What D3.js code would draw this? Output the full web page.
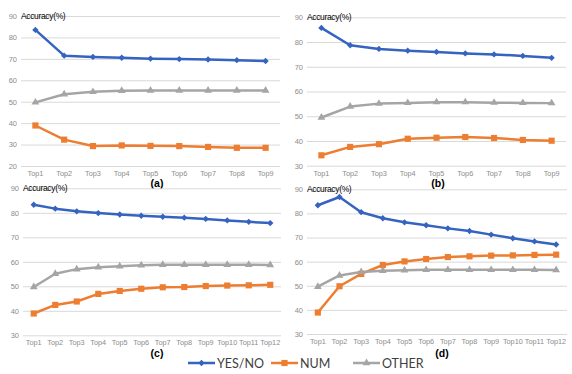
<!DOCTYPE html>
<html><head><meta charset="utf-8">
<script src="https://cdn.jsdelivr.net/npm/d3@7"></script>
<style>
body{margin:0;background:#fff;}
svg{display:block;}
</style></head>
<body>
<svg id="chart" width="572" height="374"></svg>
<script>
const seriesNames = ["YES/NO", "NUM", "OTHER"];
const seriesColors = ["#3563C0", "#ED7D31", "#A5A5A5"];
const cats9 = ["Top1","Top2","Top3","Top4","Top5","Top6","Top7","Top8","Top9"];
const cats12 = ["Top1","Top2","Top3","Top4","Top5","Top6","Top7","Top8","Top9","Top10","Top11","Top12"];
const ticksA = [20,30,40,50,60,70,80,90];
const ticksBCD = [30,40,50,60,70,80,90];

const aYes   = [83.5, 71.5, 70.9, 70.5, 70.1, 69.9, 69.7, 69.4, 69.0];
const aNum   = [38.9, 32.3, 29.3, 29.6, 29.4, 29.3, 28.9, 28.5, 28.5];
const aOther = [49.7, 53.5, 54.6, 55.1, 55.2, 55.2, 55.2, 55.2, 55.2];

const bYes   = [85.7, 78.7, 77.2, 76.5, 76.0, 75.4, 75.0, 74.4, 73.6];
const bNum   = [34.2, 37.6, 38.7, 40.9, 41.3, 41.6, 41.2, 40.4, 40.1];
const bOther = [49.5, 53.9, 55.1, 55.4, 55.7, 55.7, 55.5, 55.4, 55.3];

const cYes   = [83.3, 81.7, 80.6, 79.9, 79.3, 78.8, 78.4, 78.0, 77.5, 76.9, 76.3, 75.8];
const cNum   = [38.9, 42.4, 43.8, 46.9, 48.1, 49.0, 49.6, 49.7, 50.1, 50.3, 50.4, 50.6];
const cOther = [49.7, 55.1, 57.0, 57.8, 58.2, 58.6, 58.8, 58.8, 58.8, 58.8, 58.8, 58.7];

const dYes   = [83.4, 86.8, 80.5, 78.0, 76.3, 75.1, 73.8, 72.7, 71.2, 69.7, 68.4, 67.1];
const dNum   = [38.9, 49.8, 54.9, 58.6, 60.1, 61.1, 61.9, 62.2, 62.5, 62.6, 62.8, 62.9];
const dOther = [49.6, 54.3, 55.7, 56.2, 56.4, 56.6, 56.6, 56.6, 56.6, 56.6, 56.6, 56.5];

const panels = [
  {label:"(a)", cats:cats9,  ticks:ticksA,   series:[aYes,aNum,aOther], x0:21,  x1:280, yTop:16,    yBot:166,   lx:157, ly:187},
  {label:"(b)", cats:cats9,  ticks:ticksBCD, series:[bYes,bNum,bOther], x0:307, x1:566, yTop:17.3,  yBot:165.7, lx:438, ly:187},
  {label:"(c)", cats:cats12, ticks:ticksBCD, series:[cYes,cNum,cOther], x0:23,  x1:281, yTop:188.3, yBot:335.3, lx:157, ly:357},
  {label:"(d)", cats:cats12, ticks:ticksBCD, series:[dYes,dNum,dOther], x0:307, x1:567, yTop:189.3, yBot:334,   lx:442, ly:357}
];

const svg = d3.select("#chart");
const tickFont = "Liberation Sans, Arial, sans-serif";

function marker(g, i, cx, cy) {
  const c = seriesColors[i];
  if (i === 0) {
    g.append("path").attr("d", d3.symbol(d3.symbolSquare, 20)())
      .attr("transform", `translate(${cx},${cy}) rotate(45)`).attr("fill", c);
  } else if (i === 1) {
    g.append("path").attr("d", d3.symbol(d3.symbolSquare, 38)())
      .attr("transform", `translate(${cx},${cy})`).attr("fill", c);
  } else {
    g.append("path").attr("d", d3.symbol(d3.symbolTriangle, 26)())
      .attr("transform", `translate(${cx},${cy})`).attr("fill", c);
  }
}

panels.forEach(p => {
  const g = svg.append("g");
  const x = d3.scaleBand().domain(p.cats).range([p.x0, p.x1]);
  const y = d3.scaleLinear().domain([p.ticks[0], p.ticks[p.ticks.length-1]]).range([p.yBot, p.yTop]);

  const ya = g.append("g").attr("transform", `translate(${p.x0},0)`)
    .call(d3.axisLeft(y).tickValues(p.ticks).tickSize(-(p.x1 - p.x0)).tickPadding(4).tickFormat(d3.format("d")));
  ya.select(".domain").remove();
  ya.selectAll("line").attr("stroke", "#D9D9D9").attr("stroke-width", 1);
  ya.selectAll("text").attr("fill", "#8C8C8C").style("font-family", tickFont).style("font-size", "7.5px");

  const xa = g.append("g").attr("transform", `translate(0,${p.yBot})`)
    .call(d3.axisBottom(x).tickSize(0).tickPadding(5));
  xa.select(".domain").remove();
  xa.selectAll("text").attr("fill", "#8C8C8C").style("font-family", tickFont).style("font-size", "7.3px");

  g.append("text").attr("x", p.x0).attr("y", p.yTop + 3)
    .style("font-family", tickFont).style("font-size", "8.5px").style("letter-spacing", "-0.35px")
    .attr("fill", "#000").text("Accuracy(%)");

  const line = d3.line().x((d,j) => x(p.cats[j]) + x.bandwidth()/2).y(d => y(d));
  p.series.forEach((vals, i) => {
    g.append("path").datum(vals).attr("d", line).attr("fill", "none")
      .attr("stroke", seriesColors[i]).attr("stroke-width", 2.5).attr("stroke-linejoin", "round");
  });
  p.series.forEach((vals, i) => {
    vals.forEach((v, j) => marker(g, i, x(p.cats[j]) + x.bandwidth()/2, y(v)));
  });

  g.append("text").attr("x", p.lx).attr("y", p.ly).attr("text-anchor", "middle")
    .style("font-family", tickFont).style("font-size", "10.5px").style("font-weight", "bold")
    .attr("fill", "#000").text(p.label);
});

// legend
const legendX = [188, 271, 353];
const lg = svg.append("g");
seriesNames.forEach((n, i) => {
  const lx = legendX[i], ly = 363;
  const len = 27;
  lg.append("line").attr("x1", lx).attr("x2", lx + len).attr("y1", ly).attr("y2", ly)
    .attr("stroke", seriesColors[i]).attr("stroke-width", 2.5);
  marker(lg, i, lx + len/2, ly);
  lg.append("text").attr("x", lx + len + 2).attr("y", ly + 4.5)
    .style("font-family", "Lato, 'Open Sans', sans-serif").style("font-size", "12.5px")
    .attr("fill", "#404040").text(n);
});
</script>
</body></html>
